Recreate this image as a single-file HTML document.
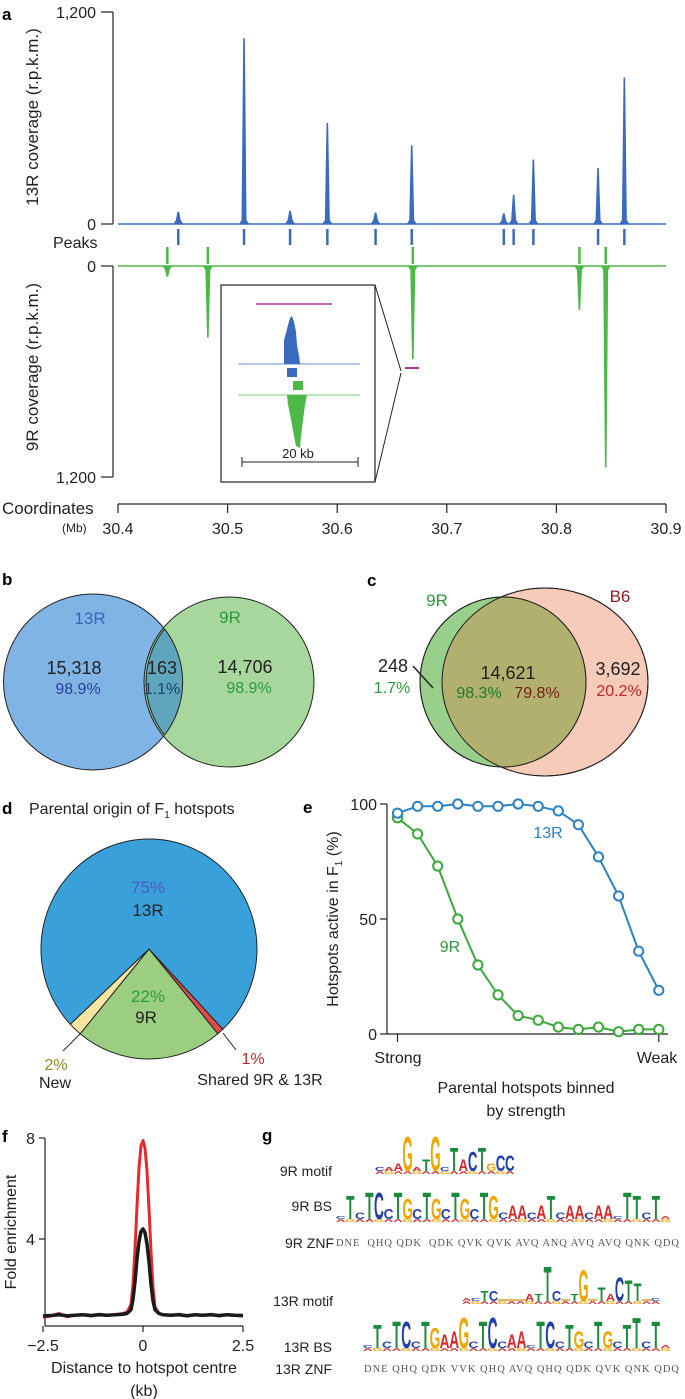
<!DOCTYPE html>
<html><head><meta charset="utf-8">
<style>
html,body{margin:0;padding:0;background:#fff;}
svg{display:block;font-family:"Liberation Sans",sans-serif;}
</style></head>
<body>
<svg id="fig" width="685" height="1399" viewBox="0 0 685 1399" xmlns="http://www.w3.org/2000/svg">
<g id="pa">
  <text x="2" y="20" font-size="17" font-weight="bold">a</text>
  <line x1="113" y1="12" x2="113" y2="224" stroke="#222" stroke-width="1.2"/>
  <line x1="101" y1="12" x2="113" y2="12" stroke="#222" stroke-width="1.2"/>
  <line x1="101" y1="224" x2="113" y2="224" stroke="#222" stroke-width="1.2"/>
  <text x="96" y="18" font-size="16" text-anchor="end" fill="#222">1,200</text>
  <text x="96" y="230" font-size="16" text-anchor="end" fill="#222">0</text>
  <text transform="translate(38,117) rotate(-90)" font-size="17" text-anchor="middle" fill="#222">13R coverage (r.p.k.m.)</text>
  <text x="53" y="248" font-size="16" fill="#222">Peaks</text>
  <line x1="113" y1="266" x2="113" y2="477" stroke="#222" stroke-width="1.2"/>
  <line x1="101" y1="266" x2="113" y2="266" stroke="#222" stroke-width="1.2"/>
  <line x1="101" y1="477" x2="113" y2="477" stroke="#222" stroke-width="1.2"/>
  <text x="96" y="272" font-size="16" text-anchor="end" fill="#222">0</text>
  <text x="96" y="483" font-size="16" text-anchor="end" fill="#222">1,200</text>
  <text transform="translate(38,367) rotate(-90)" font-size="17" text-anchor="middle" fill="#222">9R coverage (r.p.k.m.)</text>
  <text x="2" y="514" font-size="17" fill="#222">Coordinates</text>
  <text x="62" y="532" font-size="12" fill="#222">(Mb)</text>
  <line x1="118" y1="504" x2="666" y2="504" stroke="#222" stroke-width="1.2"/>
  <g id="aTicks"></g>
  <g id="aTraces"></g>
  <g>
    <rect x="221" y="285" width="154" height="197" fill="#fff" stroke="#222" stroke-width="1.2"/>
    <line x1="375" y1="285" x2="401" y2="371" stroke="#222"/>
    <line x1="375" y1="482" x2="401" y2="373" stroke="#222"/>
    <line x1="405" y1="368" x2="419" y2="368" stroke="#b0369a" stroke-width="2"/>
    <line x1="256" y1="304" x2="332" y2="304" stroke="#b0369a" stroke-width="1.5"/>
    <line x1="238" y1="364" x2="360" y2="364" stroke="#3b6bbf" stroke-width="0.8"/>
    <path d="M284 364 L284 340 L286 333 L288 325 L290 318 L292 316 L294 322 L296 332 L297 345 L299 356 L300 364 Z" fill="#3b6bbf"/>
    <rect x="287" y="368" width="10" height="9" fill="#3b6bbf"/>
    <rect x="293" y="381" width="10" height="9" fill="#4cb848"/>
    <line x1="238" y1="395" x2="360" y2="395" stroke="#4cb848" stroke-width="0.8"/>
    <path d="M287 395 L288 405 L290 414 L292 425 L294 436 L296 446 L300 448 L301 436 L303 420 L305 405 L307 395 Z" fill="#4cb848"/>
    <line x1="242" y1="462" x2="358" y2="462" stroke="#222"/>
    <line x1="242" y1="457" x2="242" y2="467" stroke="#222"/>
    <line x1="358" y1="457" x2="358" y2="467" stroke="#222"/>
    <text x="298" y="458" font-size="13" text-anchor="middle" fill="#222">20 kb</text>
  </g>
</g>

<g id="pb">
  <text x="2" y="585" font-size="17" font-weight="bold">b</text>
  <ellipse cx="93" cy="682" rx="89.5" ry="88" fill="#7fb4e4" stroke="#222"/>
  <ellipse cx="229" cy="682" rx="85" ry="85" fill="#98d08b" fill-opacity="0.85" stroke="#222"/>
  <path d="M 164.6 629 A 85 85 0 0 0 164.6 735 A 89.5 88 0 0 0 164.6 629 Z" fill="#5fa6bc" stroke="#222"/>
  <text x="90" y="624" font-size="17" text-anchor="middle" fill="#3b63bd">13R</text>
  <text x="230" y="623" font-size="17" text-anchor="middle" fill="#2a9a3a">9R</text>
  <text x="74" y="674" font-size="18" text-anchor="middle" fill="#222">15,318</text>
  <text x="78" y="694" font-size="16" text-anchor="middle" fill="#2b3f9e">98.9%</text>
  <text x="162" y="674" font-size="18" text-anchor="middle" fill="#222">163</text>
  <text x="162" y="694" font-size="16" text-anchor="middle" fill="#1e3f6e">1.1%</text>
  <text x="245" y="673" font-size="18" text-anchor="middle" fill="#222">14,706</text>
  <text x="249" y="693" font-size="16" text-anchor="middle" fill="#2a9a3a">98.9%</text>
</g>

<g id="pc">
  <text x="367" y="586" font-size="17" font-weight="bold">c</text>
  <ellipse cx="545" cy="682" rx="103" ry="94" fill="#f6cbb9" stroke="#222"/>
  <ellipse cx="503" cy="682" rx="83" ry="85" fill="#98d08b" stroke="#222"/>
  <g id="cOverlap"></g>
  <text x="437" y="606" font-size="17" text-anchor="middle" fill="#2a9a3a">9R</text>
  <text x="620" y="602" font-size="17" text-anchor="middle" fill="#8c1c1c">B6</text>
  <text x="393" y="672" font-size="18" text-anchor="middle" fill="#222">248</text>
  <text x="392" y="693" font-size="16" text-anchor="middle" fill="#2a9a3a">1.7%</text>
  <line x1="413" y1="666" x2="433" y2="688" stroke="#222" stroke-width="1.5"/>
  <text x="508" y="679" font-size="18" text-anchor="middle" fill="#222">14,621</text>
  <text x="479" y="698" font-size="16" text-anchor="middle" fill="#1e7a2a">98.3%</text>
  <text x="537" y="698" font-size="16" text-anchor="middle" fill="#7a1c14">79.8%</text>
  <text x="618" y="675" font-size="18" text-anchor="middle" fill="#222">3,692</text>
  <text x="619" y="696" font-size="16" text-anchor="middle" fill="#c02828">20.2%</text>
</g>

<g id="pd">
  <text x="2" y="814" font-size="17" font-weight="bold">d</text>
  <text x="29" y="814" font-size="16" fill="#222">Parental origin of F<tspan font-size="10" dy="4">1</tspan><tspan dy="-4"> hotspots</tspan></text>
  <g id="pie"></g>
  <text x="148" y="893" font-size="17" text-anchor="middle" fill="#4a5cc0">75%</text>
  <text x="148" y="916" font-size="17" text-anchor="middle" fill="#222">13R</text>
  <text x="148" y="1002" font-size="17" text-anchor="middle" fill="#2a9a3a">22%</text>
  <text x="146" y="1023" font-size="17" text-anchor="middle" fill="#222">9R</text>
  <line x1="63" y1="1051" x2="80" y2="1034" stroke="#222"/>
  <text x="56" y="1070" font-size="16" text-anchor="middle" fill="#8a8a20">2%</text>
  <text x="55" y="1088" font-size="16" text-anchor="middle" fill="#222">New</text>
  <line x1="223" y1="1033" x2="236" y2="1050" stroke="#222"/>
  <text x="253" y="1064" font-size="16" text-anchor="middle" fill="#c02828">1%</text>
  <text x="260" y="1085" font-size="16" text-anchor="middle" fill="#222">Shared 9R &amp; 13R</text>
</g>

<g id="pe">
  <text x="303" y="813" font-size="17" font-weight="bold">e</text>
  <line x1="387" y1="804" x2="387" y2="1034" stroke="#222" stroke-width="1.2"/>
  <line x1="387" y1="1034" x2="668" y2="1034" stroke="#222" stroke-width="1.2"/>
  <g id="eTicks"></g>
  <g id="eLines"></g>
  <text transform="translate(338,919) rotate(-90)" font-size="16" text-anchor="middle" fill="#222">Hotspots active in F<tspan font-size="10" dy="4">1</tspan><tspan dy="-4"> (%)</tspan></text>
  <text x="398" y="1063" font-size="16" text-anchor="middle" fill="#222">Strong</text>
  <text x="657" y="1063" font-size="16" text-anchor="middle" fill="#222">Weak</text>
  <text x="526" y="1093" font-size="16" text-anchor="middle" fill="#222">Parental hotspots binned</text>
  <text x="526" y="1116" font-size="16" text-anchor="middle" fill="#222">by strength</text>
  <text x="548" y="838" font-size="16" text-anchor="middle" fill="#2b82c6">13R</text>
  <text x="450" y="952" font-size="16" text-anchor="middle" fill="#2a9a3a">9R</text>
</g>

<g id="pf">
  <text x="2" y="1142" font-size="17" font-weight="bold">f</text>
  <line x1="45" y1="1138" x2="45" y2="1326" stroke="#222" stroke-width="1.2"/>
  <line x1="45" y1="1326" x2="243" y2="1326" stroke="#222" stroke-width="1.2"/>
  <g id="fTicks"></g>
  <g id="fLines"></g>
  <text transform="translate(16,1232) rotate(-90)" font-size="16" text-anchor="middle" fill="#222">Fold enrichment</text>
  <text x="144" y="1373" font-size="16" text-anchor="middle" fill="#222">Distance to hotspot centre</text>
  <text x="144" y="1396" font-size="16" text-anchor="middle" fill="#222">(kb)</text>
</g>

<g id="pg">
  <text x="262" y="1141" font-size="17" font-weight="bold">g</text>
  <text x="332" y="1176" font-size="14" text-anchor="end" fill="#222">9R motif</text>
  <text x="332" y="1211" font-size="14" text-anchor="end" fill="#222">9R BS</text>
  <text x="334" y="1248" font-size="14" text-anchor="end" fill="#222">9R ZNF</text>
  <text x="333" y="1306" font-size="14" text-anchor="end" fill="#222">13R motif</text>
  <text x="332" y="1352" font-size="14" text-anchor="end" fill="#222">13R BS</text>
  <text x="332" y="1374" font-size="14" text-anchor="end" fill="#222">13R ZNF</text>
  <text x="336" y="1246" font-size="10.5" font-family="Liberation Serif, serif" fill="#555" textLength="343" lengthAdjust="spacing" xml:space="preserve">DNE  QHQ QDK  QDK QVK QVK AVQ ANQ AVQ AVQ QNK QDQ</text>
  <text x="364" y="1372" font-size="10.5" font-family="Liberation Serif, serif" fill="#555" textLength="315" lengthAdjust="spacing">DNE QHQ QDK VVK QHQ AVQ QHQ QDK QVK QNK QDQ</text>
  <g id="logos"></g>
</g>
</svg>
<script>
// ---------- Panel a data ----------
const xTicksA = [30.4, 30.5, 30.6, 30.7, 30.8, 30.9];
const xTickLabelsA = ['30.4', '30.5', '30.6', '30.7', '30.8', '30.9'];
const cov13Pos = [30.455, 30.515, 30.557, 30.591, 30.635, 30.668, 30.752, 30.761, 30.779, 30.838, 30.862];
const cov13Val = [70, 1052, 75, 572, 65, 444, 60, 166, 365, 318, 829];
const cov9Pos = [30.445, 30.482, 30.669, 30.821, 30.845];
const cov9Val = [61, 407, 529, 250, 1145];
// ---------- Panel d data ----------
const pieLabels = ['Shared 9R & 13R', '9R', 'New', '13R'];
const pieVals = [1, 22, 2, 75];
// ---------- Panel e data ----------
const eBins = [1,2,3,4,5,6,7,8,9,10,11,12,13,14];
const e13R = [96, 99, 99, 100, 99, 99, 100, 99, 97, 91, 77, 60, 36, 19];
const e9R = [94, 87, 73, 50, 30, 17, 8, 6, 3, 2, 3, 1, 2, 2];
const eYTicks = [0, 50, 100];
// ---------- Panel f data ----------
const fDist = [-2.5,-2.3,-2.1,-1.9,-1.7,-1.5,-1.3,-1.1,-0.9,-0.7,-0.5,-0.4,-0.3,-0.25,-0.2,-0.15,-0.1,-0.05,0,0.05,0.1,0.15,0.2,0.25,0.3,0.4,0.5,0.7,0.9,1.1,1.3,1.5,1.7,1.9,2.1,2.3,2.5];
const fRed = [0.9,0.95,1.05,0.92,0.98,1.0,0.95,1.02,0.97,1.0,1.05,1.1,1.4,2.2,3.6,5.3,6.8,7.7,7.9,7.6,6.7,5.2,3.5,2.1,1.3,1.05,1.0,0.98,1.02,0.95,1.0,0.97,1.02,0.95,1.0,0.97,0.95];
const fBlack = [0.95,0.97,1.0,0.96,0.98,1.0,0.97,1.0,0.98,1.0,1.02,1.05,1.2,1.6,2.3,3.2,3.9,4.3,4.4,4.25,3.8,3.1,2.2,1.55,1.2,1.05,1.0,0.98,1.0,0.96,1.0,0.98,1.0,0.97,1.0,0.98,0.97];
const fXTicks = [-2.5, 0, 2.5];
const fXTickLabels = ['\u22122.5', '0', '2.5'];
const fYTicks = [4, 8];

const NS = 'http://www.w3.org/2000/svg';
function mk(tag, parent) { const e = document.createElementNS(NS, tag); parent.appendChild(e); return e; }

// ---- Panel a ----
const xA = mb => 118 + (mb - 30.4) / 0.5 * 548;
const y13 = v => 224 - v / 1200 * 212;
const y9 = v => 266 + v / 1200 * 211;
const aT = document.getElementById('aTicks');
xTicksA.forEach((t, i) => {
  const l = mk('line', aT);
  
  
  l.setAttribute('x1', xA(t)); l.setAttribute('x2', xA(t)); l.setAttribute('y1', 504); l.setAttribute('y2', 513);
  l.setAttribute('stroke', '#222'); l.setAttribute('stroke-width', '1.2');
  const tx = mk('text', aT);
  
  
  tx.setAttribute('x', xA(t)); tx.setAttribute('y', 534); tx.setAttribute('font-size', '16');
  tx.setAttribute('text-anchor', 'middle'); tx.setAttribute('fill', '#222');
  tx.textContent = xTickLabelsA[i];
});
const aTr = document.getElementById('aTraces');
function baseline(y, color, name) {
  const l = mk('line', aTr);
  
  
  l.setAttribute('x1', 118); l.setAttribute('x2', 666); l.setAttribute('y1', y); l.setAttribute('y2', y);
  l.setAttribute('stroke', color); l.setAttribute('stroke-width', '1.6');
}
baseline(224, '#3b6bbf', 'coverage-13r-baseline');
baseline(266, '#4cb848', 'coverage-9r-baseline');
function spike(x, base, top) {
  const s = top < base ? -1 : 1;
  const h = Math.abs(top - base);
  return `M${x-5} ${base} L${x-2.5} ${base + s*Math.min(4, h*0.3)} L${x-0.8} ${top} L${x+0.8} ${top} L${x+2.5} ${base + s*Math.min(4, h*0.3)} L${x+5} ${base} Z`;
}
cov13Pos.forEach((p, i) => {
  const e = mk('path', aTr);
  
  
  e.setAttribute('d', spike(xA(p), 224, y13(cov13Val[i])));
  e.setAttribute('fill', '#3b6bbf');
  const t = mk('line', aTr);
  
  
  t.setAttribute('x1', xA(p)); t.setAttribute('x2', xA(p)); t.setAttribute('y1', 229); t.setAttribute('y2', 245);
  t.setAttribute('stroke', '#3b6bbf'); t.setAttribute('stroke-width', '2.5');
});
cov9Pos.forEach((p, i) => {
  const e = mk('path', aTr);
  
  
  e.setAttribute('d', spike(xA(p), 266, y9(cov9Val[i])));
  e.setAttribute('fill', '#4cb848');
  const t = mk('line', aTr);
  
  
  t.setAttribute('x1', xA(p)); t.setAttribute('x2', xA(p)); t.setAttribute('y1', 247); t.setAttribute('y2', 264);
  t.setAttribute('stroke', '#4cb848'); t.setAttribute('stroke-width', '2.5');
});

// ---- Panel c overlap (clip) ----
(function () {
  const g = document.getElementById('cOverlap');
  const defs = mk('defs', g);
  const cp = mk('clipPath', defs);
  cp.setAttribute('id', 'clipB6');
  const ce = mk('ellipse', cp);
  ce.setAttribute('cx', 545); ce.setAttribute('cy', 682); ce.setAttribute('rx', 103); ce.setAttribute('ry', 94);
  const ov = mk('ellipse', g);
  
  
  ov.setAttribute('cx', 503); ov.setAttribute('cy', 682); ov.setAttribute('rx', 83); ov.setAttribute('ry', 85);
  ov.setAttribute('fill', '#b1b06f'); ov.setAttribute('clip-path', 'url(#clipB6)');
  const o1 = mk('ellipse', g);
  
  
  o1.setAttribute('cx', 503); o1.setAttribute('cy', 682); o1.setAttribute('rx', 83); o1.setAttribute('ry', 85);
  o1.setAttribute('fill', 'none'); o1.setAttribute('stroke', '#222');
  const o2 = mk('ellipse', g);
  
  
  o2.setAttribute('cx', 545); o2.setAttribute('cy', 682); o2.setAttribute('rx', 103); o2.setAttribute('ry', 94);
  o2.setAttribute('fill', 'none'); o2.setAttribute('stroke', '#222');
})();

// ---- Panel d pie ----
(function () {
  const g = document.getElementById('pie');
  const cx = 149, cy = 949, rx = 108, ry = 110;
  const colors = ['#e04a4a', '#9bce80', '#f7e6a2', '#3aa0da'];
  const total = pieVals.reduce((a, b) => a + b, 0);
  let a = 90 - (pieVals[1] / 2 + pieVals[0]) / total * 360;
  const pt = ang => [cx + rx * Math.cos(ang * Math.PI / 180), cy + ry * Math.sin(ang * Math.PI / 180)];
  pieVals.forEach((v, i) => {
    const sweep = v / total * 360;
    const p0 = pt(a), p1 = pt(a + sweep);
    const e = mk('path', g);
    
    
    e.setAttribute('d', `M${cx} ${cy} L${p0[0]} ${p0[1]} A${rx} ${ry} 0 ${sweep > 180 ? 1 : 0} 1 ${p1[0]} ${p1[1]} Z`);
    e.setAttribute('fill', colors[i]); e.setAttribute('stroke', '#222'); e.setAttribute('stroke-width', '1');
    a += sweep;
  });
})();

// ---- Panel e ----
(function () {
  const xE = i => 397.5 + (i - 1) * 20.1;
  const yE = v => 1034 - v * 2.3;
  const tg = document.getElementById('eTicks');
  eYTicks.forEach(t => {
    const l = mk('line', tg);
    
    
    l.setAttribute('x1', 380); l.setAttribute('x2', 387); l.setAttribute('y1', yE(t)); l.setAttribute('y2', yE(t));
    l.setAttribute('stroke', '#222'); l.setAttribute('stroke-width', '1.2');
    const tx = mk('text', tg);
    
    
    tx.setAttribute('x', 377); tx.setAttribute('y', yE(t) + 6); tx.setAttribute('font-size', '16');
    tx.setAttribute('text-anchor', 'end'); tx.setAttribute('fill', '#222');
    tx.textContent = t;
  });
  [eBins[0], eBins[eBins.length - 1]].forEach(b => {
    const l = mk('line', tg);
    
    
    l.setAttribute('x1', xE(b)); l.setAttribute('x2', xE(b)); l.setAttribute('y1', 1034); l.setAttribute('y2', 1042);
    l.setAttribute('stroke', '#222'); l.setAttribute('stroke-width', '1.2');
  });
  const lg = document.getElementById('eLines');
  [[e9R, '#3aaa3a', '9r'], [e13R, '#2b82c6', '13r']].forEach(([vals, col, nm]) => {
    const pl = mk('polyline', lg);
    
    
    pl.setAttribute('points', vals.map((v, i) => xE(eBins[i]) + ',' + yE(v)).join(' '));
    pl.setAttribute('fill', 'none'); pl.setAttribute('stroke', col); pl.setAttribute('stroke-width', '2');
    vals.forEach((v, i) => {
      const c = mk('circle', lg);
      
      
      c.setAttribute('cx', xE(eBins[i])); c.setAttribute('cy', yE(v)); c.setAttribute('r', 4.6);
      c.setAttribute('fill', '#fff'); c.setAttribute('stroke', col); c.setAttribute('stroke-width', '2');
    });
  });
})();

// ---- Panel f ----
(function () {
  const xF = d => 143 + d * 40;
  const yF = v => 1340 - v * 25.25;
  const tg = document.getElementById('fTicks');
  fYTicks.forEach(t => {
    const l = mk('line', tg);
    
    
    l.setAttribute('x1', 39); l.setAttribute('x2', 45); l.setAttribute('y1', yF(t)); l.setAttribute('y2', yF(t));
    l.setAttribute('stroke', '#222'); l.setAttribute('stroke-width', '1.2');
    const tx = mk('text', tg);
    
    
    tx.setAttribute('x', 35); tx.setAttribute('y', yF(t) + 6); tx.setAttribute('font-size', '16');
    tx.setAttribute('text-anchor', 'end'); tx.setAttribute('fill', '#222');
    tx.textContent = t;
  });
  fXTicks.forEach((t, i) => {
    const l = mk('line', tg);
    
    
    l.setAttribute('x1', xF(t)); l.setAttribute('x2', xF(t)); l.setAttribute('y1', 1326); l.setAttribute('y2', 1332);
    l.setAttribute('stroke', '#222'); l.setAttribute('stroke-width', '1.2');
    const tx = mk('text', tg);
    
    
    tx.setAttribute('x', xF(t)); tx.setAttribute('y', 1351); tx.setAttribute('font-size', '16');
    tx.setAttribute('text-anchor', 'middle'); tx.setAttribute('fill', '#222');
    tx.textContent = fXTickLabels[i];
  });
  const lg = document.getElementById('fLines');
  [[fRed, '#e42a2a', 3, 'red'], [fBlack, '#1a1a1a', 3.5, 'black']].forEach(([vals, col, w, nm]) => {
    const pl = mk('polyline', lg);
    
    
    pl.setAttribute('points', vals.map((v, i) => xF(fDist[i]) + ',' + yF(v)).join(' '));
    pl.setAttribute('fill', 'none'); pl.setAttribute('stroke', col); pl.setAttribute('stroke-width', w);
    pl.setAttribute('stroke-linejoin', 'round');
  });
})();

// ---- Panel g logos ----
(function () {
  const g = document.getElementById('logos');
  const col = { A: '#d8282a', C: '#1f3fb0', G: '#f1a500', T: '#1c8a3c', '.': '#f1a500' };
  const logos = [
    ['logo-9r-motif', 'c1a1A2G9a1T3G9c1T6A3C5T6g2C4C4', 375, 9.3, 1174, 4],
    ['logo-9r-bs', 'c1T7c2T8C8c3T8G6c3T8G6c3T8G6c3T8G7c2A4A4c2A4T7c2A4A4c2A4A4c1T8T7c2T7a1', 336, 9.55, 1222, 3.5],
    ['logo-13r-motif', 'a1c1T3C3.0.0.0A2T2T10C3.0T2G9.0T4A2C7T6T5.0c1', 462, 9, 1304, 3.6],
    ['logo-13r-bs', 'c1T7c2T8C8c2T8G6A4A5G9c2T8C9c2A4A5c1T8C8c2T7G5c2T8G5c2T7T9c2T8a1', 363, 9.6, 1351, 3.5]
  ];
  logos.forEach(([name, seq, x0, cw, base, unit]) => {
    const lg = mk('g', g);
    
    
    const cols = seq.match(/[A-Za-z.]\d+/g);
    cols.forEach((c, i) => {
      const L = c[0].toUpperCase();
      const h = parseInt(c.slice(1)) * unit;
      const cx = x0 + i * cw + cw / 2;
      const sm = mk('text', lg);
      
      
      sm.setAttribute('font-size', '10'); sm.setAttribute('font-weight', 'bold');
      sm.setAttribute('text-anchor', 'middle'); sm.setAttribute('fill', i % 3 === 1 ? '#f1a500' : '#d8282a');
      sm.setAttribute('transform', `translate(${cx},${base}) scale(${cw / 7.2},${3 / 7.3})`);
      sm.textContent = i % 3 === 1 ? 'G' : 'A';
      if (L === '.' || h <= 0) {
        const ln = mk('line', lg);
        
        
        ln.setAttribute('x1', cx - cw / 2); ln.setAttribute('x2', cx + cw / 2);
        ln.setAttribute('y1', base - 4); ln.setAttribute('y2', base - 4);
        ln.setAttribute('stroke', '#d8a030'); ln.setAttribute('stroke-width', '1.5');
        return;
      }
      const t = mk('text', lg);
      
      
      t.setAttribute('font-size', '10'); t.setAttribute('font-weight', 'bold');
      t.setAttribute('text-anchor', 'middle'); t.setAttribute('fill', col[L]);
      t.setAttribute('transform', `translate(${cx},${base - 3}) scale(${cw / 7.0},${h / 7.3})`);
      t.textContent = L;
    });
  });
})();
</script>
</body></html>
